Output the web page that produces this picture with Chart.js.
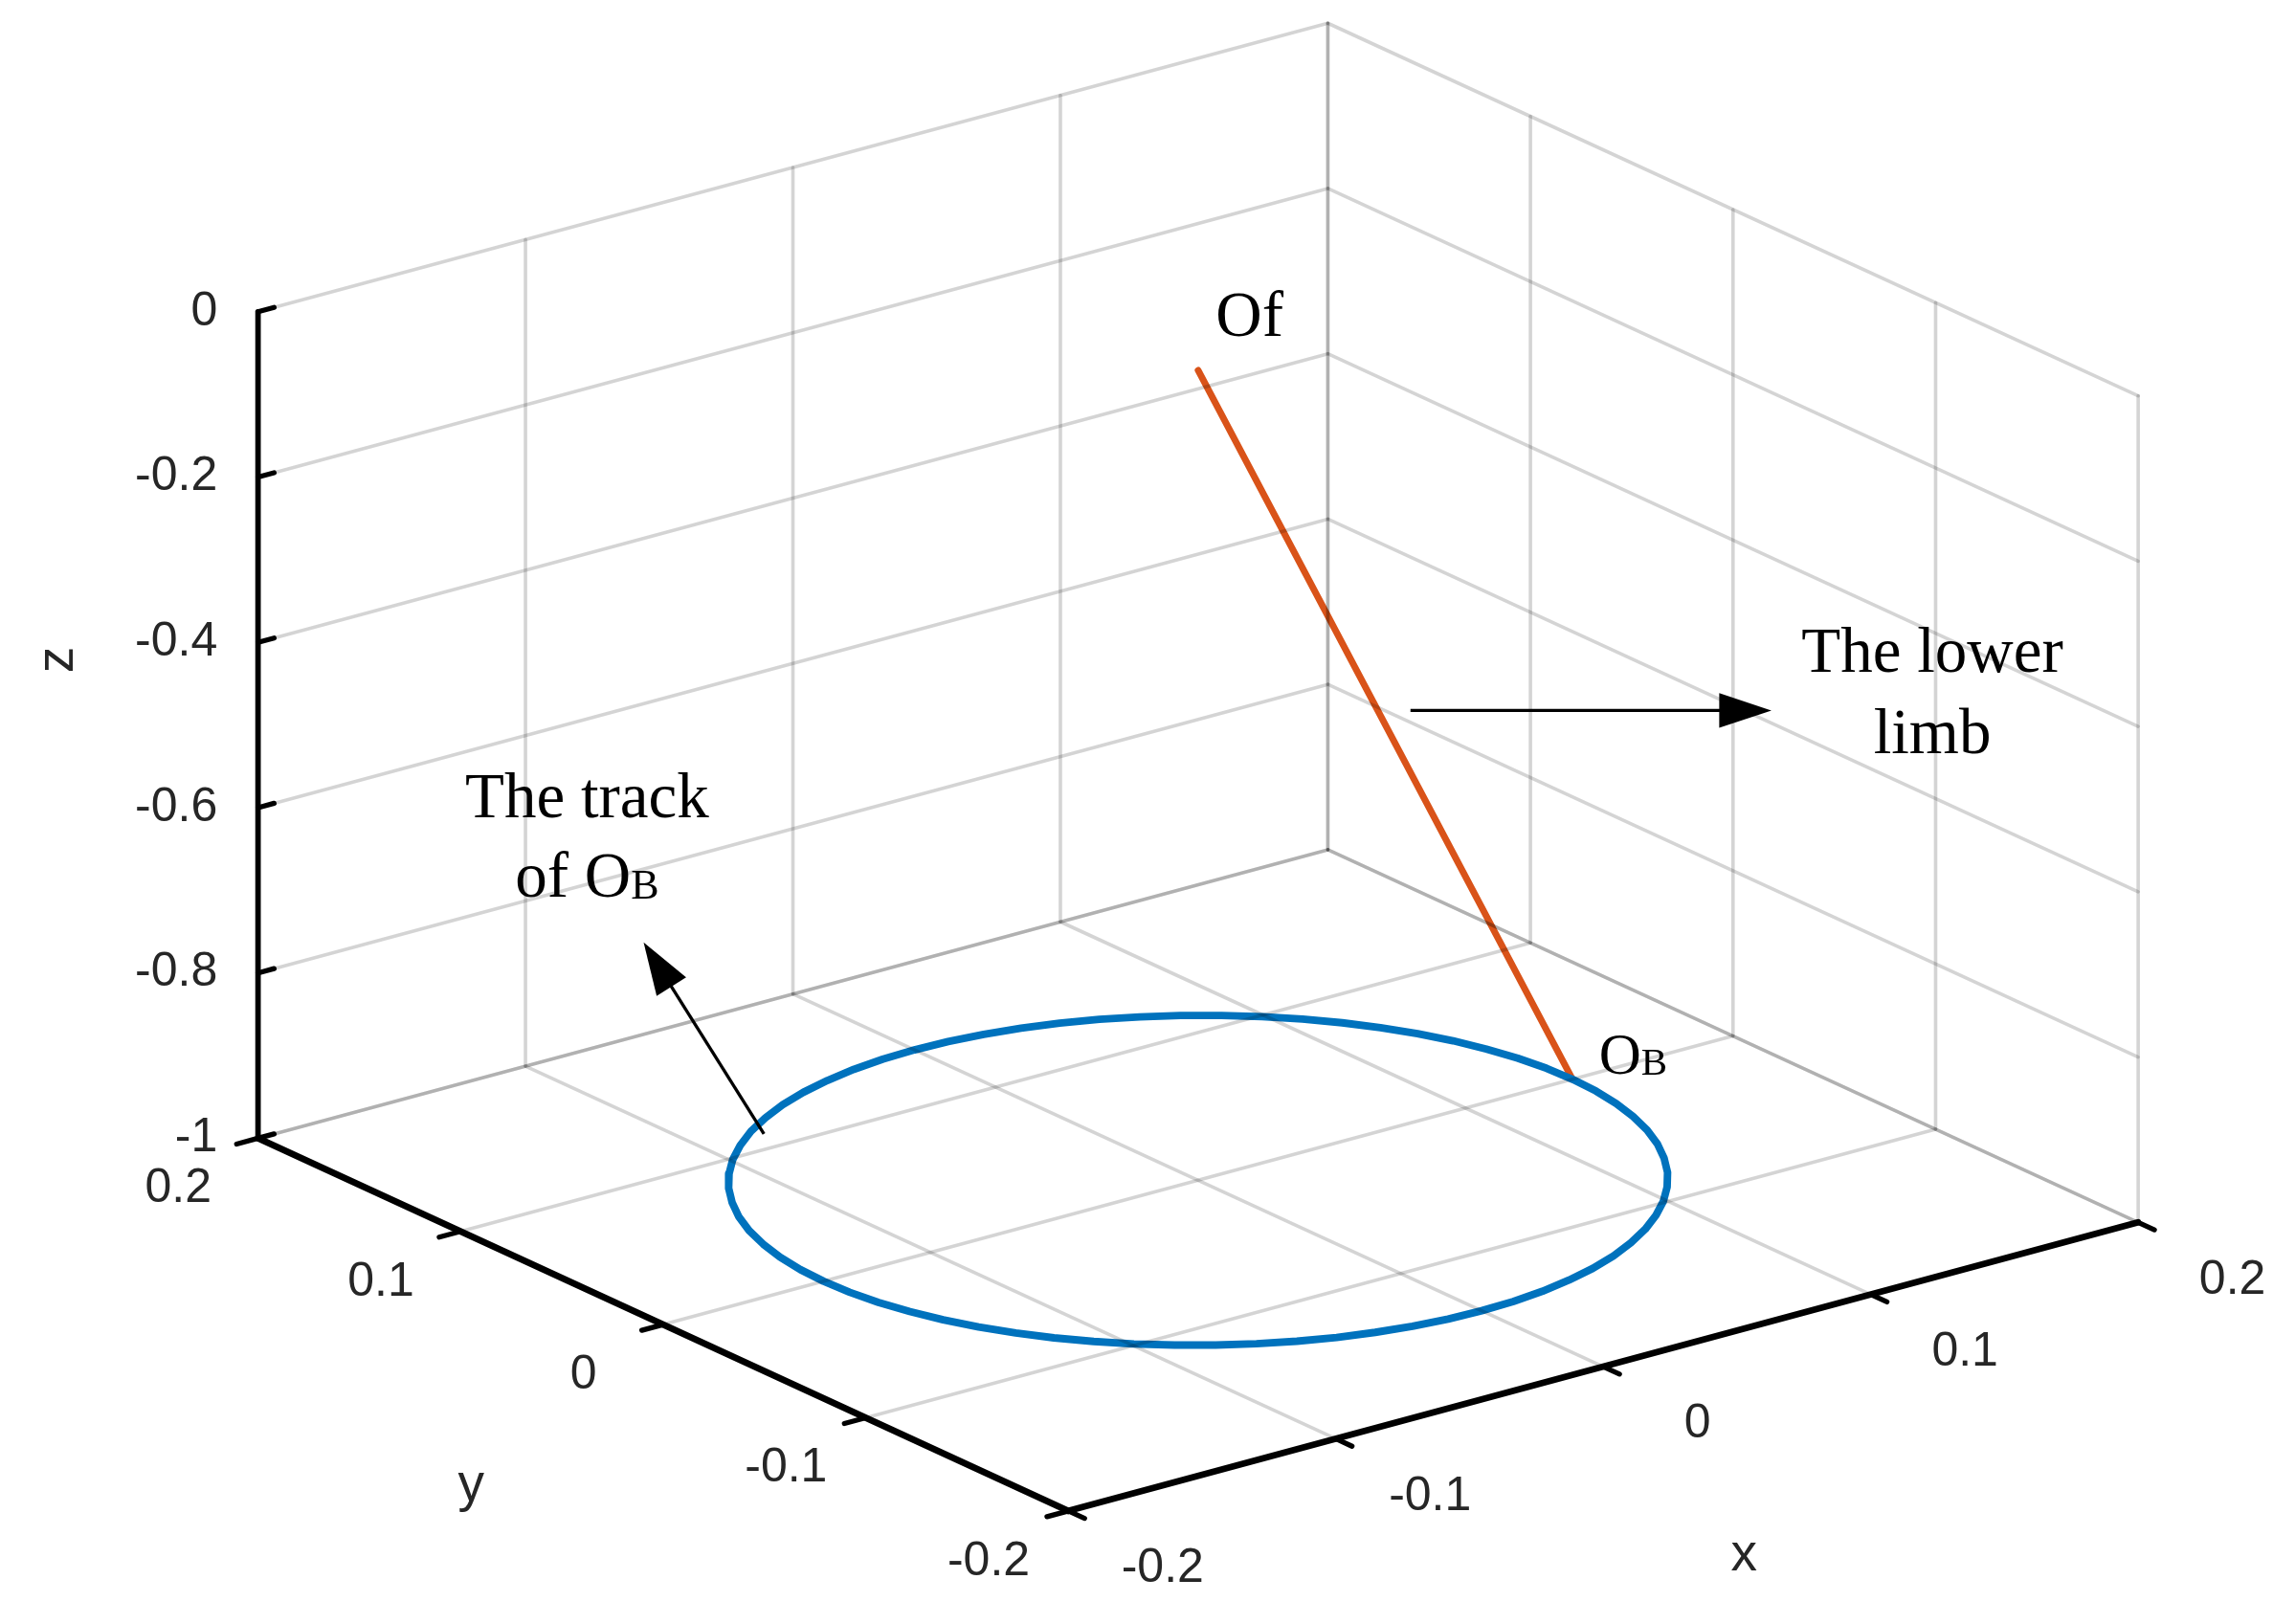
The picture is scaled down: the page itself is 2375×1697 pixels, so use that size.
<!DOCTYPE html>
<html>
<head>
<meta charset="utf-8">
<script src="https://cdn.jsdelivr.net/npm/chart.js@4.4.1/dist/chart.umd.min.js"></script>
<style>
  html, body { margin:0; padding:0; background:#fff; overflow:hidden; }
  canvas { display:block; }
</style>
</head>
<body>
<canvas id="c" width="2375" height="1697"></canvas>
<script>
// ── Data ─────────────────────────────────────────────────────────────────────
const xTicks = [-0.2, -0.1, 0, 0.1, 0.2];
const yTicks = [-0.2, -0.1, 0, 0.1, 0.2];
const zTicks = [-1, -0.8, -0.6, -0.4, -0.2, 0];
const xTickLabels = ['-0.2', '-0.1', '0', '0.1', '0.2'];
const yTickLabels = ['-0.2', '-0.1', '0', '0.1', '0.2'];
const zTickLabels = ['-1', '-0.8', '-0.6', '-0.4', '-0.2', '0'];

// track of OB (circle at z = -1, r ≈ 0.14), sampled every 5°
const trackX = [
  0.1400, 0.1395, 0.1379, 0.1352, 0.1316, 0.1269, 0.1212, 0.1147, 0.1072, 0.0990,
  0.0900, 0.0803, 0.0700, 0.0592, 0.0479, 0.0362, 0.0243, 0.0122, 0.0000,
  -0.0122, -0.0243, -0.0362, -0.0479, -0.0592, -0.0700, -0.0803, -0.0900, -0.0990,
  -0.1072, -0.1147, -0.1212, -0.1269, -0.1316, -0.1352, -0.1379, -0.1395, -0.1400,
  -0.1395, -0.1379, -0.1352, -0.1316, -0.1269, -0.1212, -0.1147, -0.1072, -0.0990,
  -0.0900, -0.0803, -0.0700, -0.0592, -0.0479, -0.0362, -0.0243, -0.0122, 0.0000,
  0.0122, 0.0243, 0.0362, 0.0479, 0.0592, 0.0700, 0.0803, 0.0900, 0.0990,
  0.1072, 0.1147, 0.1212, 0.1269, 0.1316, 0.1352, 0.1379, 0.1395, 0.1400];
const trackY = [
  0.0000, 0.0122, 0.0243, 0.0362, 0.0479, 0.0592, 0.0700, 0.0803, 0.0900, 0.0990,
  0.1072, 0.1147, 0.1212, 0.1269, 0.1316, 0.1352, 0.1379, 0.1395, 0.1400,
  0.1395, 0.1379, 0.1352, 0.1316, 0.1269, 0.1212, 0.1147, 0.1072, 0.0990,
  0.0900, 0.0803, 0.0700, 0.0592, 0.0479, 0.0362, 0.0243, 0.0122, 0.0000,
  -0.0122, -0.0243, -0.0362, -0.0479, -0.0592, -0.0700, -0.0803, -0.0900, -0.0990,
  -0.1072, -0.1147, -0.1212, -0.1269, -0.1316, -0.1352, -0.1379, -0.1395, -0.1400,
  -0.1395, -0.1379, -0.1352, -0.1316, -0.1269, -0.1212, -0.1147, -0.1072, -0.0990,
  -0.0900, -0.0803, -0.0700, -0.0592, -0.0479, -0.0362, -0.0243, -0.0122, 0.0000];
const trackZ = -1;

// lower limb: Of -> OB
const limbX = [0.00, 0.14];
const limbY = [0.00, 0.00];
const limbZ = [-0.02, -1];

// ── Projection (MATLAB default 3D view, reference pixel frame 1568 x 1120) ──
const W = 1568, H = 1120, S = 2375 / W;
const proj = (x, y, z) => ({
  x: 737 + (x + 0.2) * 1845 - (y + 0.2) * 1397.5,
  y: 1042 - (x + 0.2) * 497.5 - (y + 0.2) * 642.5 - (z + 1) * 570
});

const seg = (pts, color, width) => ({
  data: pts, borderColor: color, backgroundColor: color, borderWidth: width * S,
  showLine: true, pointRadius: 0, tension: 0, clip: false, borderCapStyle: 'round', borderJoinStyle: 'round'
});

const GRID = 'rgba(0,0,0,0.17)';
const datasets = [];

// floor grid (z = -1)
xTicks.forEach(v => datasets.push(seg([proj(v, -0.2, -1), proj(v, 0.2, -1)], GRID, 2.4)));
yTicks.forEach(v => datasets.push(seg([proj(-0.2, v, -1), proj(0.2, v, -1)], GRID, 2.4)));
// back wall y = 0.2
xTicks.forEach(v => datasets.push(seg([proj(v, 0.2, -1), proj(v, 0.2, 0)], GRID, 2.4)));
zTicks.forEach(v => datasets.push(seg([proj(-0.2, 0.2, v), proj(0.2, 0.2, v)], GRID, 2.4)));
// back wall x = 0.2
yTicks.forEach(v => datasets.push(seg([proj(0.2, v, -1), proj(0.2, v, 0)], GRID, 2.4)));
zTicks.forEach(v => datasets.push(seg([proj(0.2, -0.2, v), proj(0.2, 0.2, v)], GRID, 2.4)));

// track and limb
datasets.push(seg(trackX.map((x, i) => proj(x, trackY[i], trackZ)), '#0072BD', 5.2));
datasets.push(seg(limbX.map((x, i) => proj(x, limbY[i], limbZ[i])), '#D95319', 4.6));

// axes
datasets.push(seg([proj(-0.2, 0.2, -1), proj(-0.2, 0.2, 0)], '#000', 3.8));
datasets.push(seg([proj(-0.2, 0.2, -1), proj(-0.2, -0.2, -1)], '#000', 4.5));
datasets.push(seg([proj(-0.2, -0.2, -1), proj(0.2, -0.2, -1)], '#000', 4.5));
// tick marks
zTicks.forEach(v => datasets.push(seg([proj(-0.2, 0.2, v), proj(-0.194, 0.2, v)], '#000', 3.5)));
yTicks.forEach(v => datasets.push(seg([proj(-0.2, v, -1), proj(-0.208, v, -1)], '#000', 3.5)));
xTicks.forEach(v => datasets.push(seg([proj(v, -0.2, -1), proj(v, -0.208, -1)], '#000', 3.5)));

// ── Text plugin ──────────────────────────────────────────────────────────────
const labelsPlugin = {
  id: 'labels3d',
  afterDatasetsDraw(chart) {
    const { ctx, scales } = chart;
    const px = p => [scales.x.getPixelForValue(p.x), scales.y.getPixelForValue(p.y)];
    const txt = (s, p, font, align = 'center', color = '#262626') => {
      ctx.font = font; ctx.fillStyle = color; ctx.textAlign = align; ctx.textBaseline = 'middle';
      const [a, b] = px(p); ctx.fillText(s, a, b);
    };
    const sans = n => `${Math.round(n * S)}px "Liberation Sans", Arial, sans-serif`;
    const serif = n => `${Math.round(n * S)}px "Liberation Serif", "Times New Roman", serif`;
    ctx.save();
    zTicks.forEach((v, i) => {
      const p = proj(-0.2, 0.2, v);
      txt(zTickLabels[i], { x: p.x - 28, y: p.y }, sans(33), 'right');
    });
    yTicks.forEach((v, i) => {
      const p = proj(-0.2, v, -1);
      txt(yTickLabels[i], { x: p.x - 55, y: p.y + 35 }, sans(33));
    });
    xTicks.forEach((v, i) => {
      const p = proj(v, -0.2, -1);
      txt(xTickLabels[i], { x: p.x + 65, y: p.y + 40 }, sans(33));
    });
    txt('y', { x: 325, y: 1025 }, sans(36));
    txt('x', { x: 1203, y: 1073 }, sans(36));
    ctx.save();
    const [za, zb] = px({ x: 40, y: 455 });
    ctx.translate(za, zb); ctx.rotate(-Math.PI / 2);
    ctx.font = sans(36); ctx.fillStyle = '#262626'; ctx.textAlign = 'center'; ctx.textBaseline = 'middle';
    ctx.fillText('z', 0, 0);
    ctx.restore();

    // annotations
    const blk = '#000';
    txt('Of', { x: 862, y: 220 }, serif(44), 'center', blk);
    txt('The lower', { x: 1333, y: 452 }, serif(44), 'center', blk);
    txt('limb', { x: 1333, y: 508 }, serif(44), 'center', blk);
    txt('The track', { x: 405, y: 552 }, serif(44), 'center', blk);
    ctx.font = serif(44);
    const w1 = ctx.measureText('of O').width;
    ctx.font = serif(29);
    const w2 = ctx.measureText('B').width;
    const [ta, tb] = px({ x: 405, y: 607 });
    const start = ta - (w1 + w2) / 2;
    ctx.textAlign = 'left'; ctx.fillStyle = blk; ctx.textBaseline = 'middle';
    ctx.font = serif(44); ctx.fillText('of O', start, tb);
    ctx.font = serif(29); ctx.fillText('B', start + w1, tb + 5 * S);
    const [oa, ob] = px({ x: 1103, y: 730 });
    ctx.font = serif(40); ctx.fillText('O', oa, ob);
    const wo = ctx.measureText('O').width;
    ctx.font = serif(27); ctx.fillText('B', oa + wo, ob + 4 * S);

    const arrow = (p1, p2) => {
      const [x1, y1] = px(p1), [x2, y2] = px(p2);
      const ang = Math.atan2(y2 - y1, x2 - x1), L = 36 * S, hw = 12 * S;
      ctx.strokeStyle = blk; ctx.fillStyle = blk; ctx.lineWidth = 2.2 * S;
      ctx.beginPath(); ctx.moveTo(x1, y1);
      ctx.lineTo(x2 - Math.cos(ang) * L * 0.9, y2 - Math.sin(ang) * L * 0.9); ctx.stroke();
      ctx.beginPath(); ctx.moveTo(x2, y2);
      ctx.lineTo(x2 - Math.cos(ang) * L - Math.sin(ang) * hw, y2 - Math.sin(ang) * L + Math.cos(ang) * hw);
      ctx.lineTo(x2 - Math.cos(ang) * L + Math.sin(ang) * hw, y2 - Math.sin(ang) * L - Math.cos(ang) * hw);
      ctx.closePath(); ctx.fill();
    };
    arrow({ x: 973, y: 490 }, { x: 1222, y: 490 });
    arrow({ x: 527, y: 782 }, { x: 444, y: 650 });
    ctx.restore();
  }
};

new Chart(document.getElementById('c').getContext('2d'), {
  type: 'scatter',
  data: { datasets },
  options: {
    responsive: false, animation: false, devicePixelRatio: 1,
    layout: { padding: 0 },
    plugins: { legend: { display: false }, tooltip: { enabled: false } },
    scales: {
      x: { type: 'linear', min: 0, max: W, display: false },
      y: { type: 'linear', min: 0, max: H, reverse: true, display: false }
    }
  },
  plugins: [labelsPlugin]
});
</script>
</body>
</html>
